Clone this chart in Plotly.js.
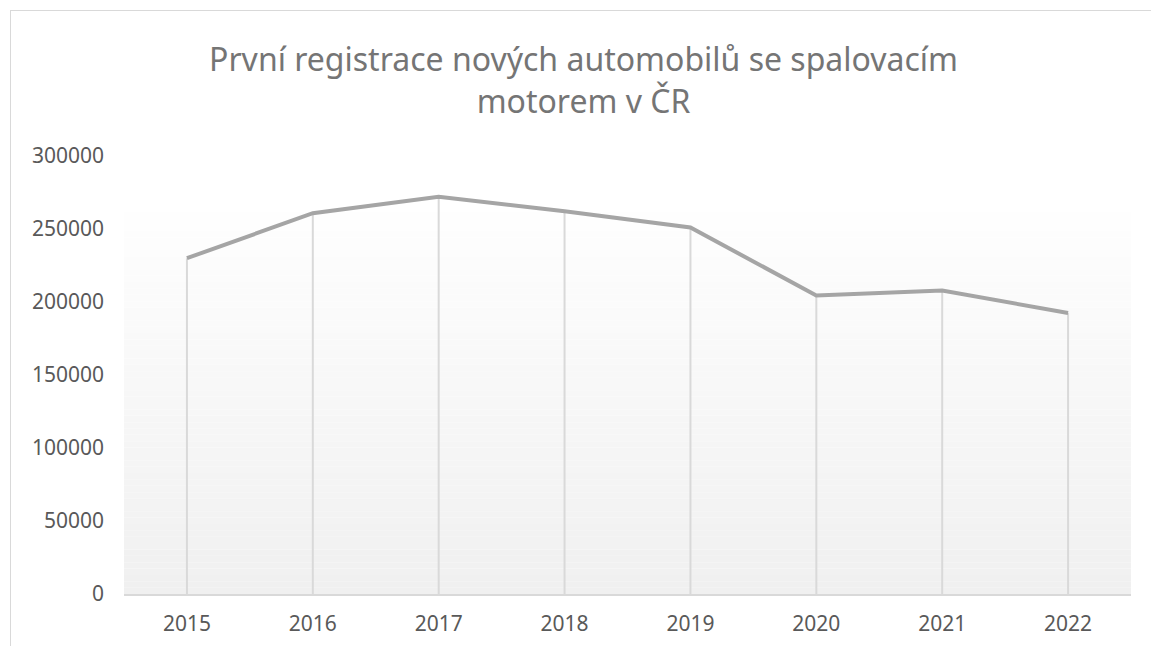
<!DOCTYPE html>
<html>
<head>
<meta charset="utf-8">
<script src="https://cdn.plot.ly/plotly-3.0.1.min.js"></script>
<style>
  html, body { margin: 0; padding: 0; background: #ffffff; overflow: hidden; }
  #frame { position: absolute; left: 10px; top: 10px; width: 1200px; height: 700px; border: 1px solid #d9d9d9; box-sizing: border-box; }
  #chart { position: absolute; left: 0; top: 0; width: 1151px; height: 646px; }
</style>
</head>
<body>
<div id="frame"></div>
<div id="chart"></div>
<script>
const years = ['2015', '2016', '2017', '2018', '2019', '2020', '2021', '2022'];
const registrations = [230000, 260800, 272000, 262200, 251000, 204500, 207800, 192500];
const yTicks = [0, 50000, 100000, 150000, 200000, 250000, 300000];
const chartTitle = 'První registrace nových automobilů se spalovacím<br>motorem v ČR';

// background gradient stripes (decoration)
const shapes = [];
const nStripes = 60;
const gradTop = 0.872;
for (let i = 0; i < nStripes; i++) {
  const t = i / (nStripes - 1);
  const c = Math.round(240 + (254 - 240) * t);
  shapes.push({
    type: 'rect', xref: 'paper', yref: 'paper', layer: 'below',
    x0: 0, x1: 1,
    y0: gradTop * i / nStripes, y1: gradTop * (i + 1) / nStripes,
    fillcolor: `rgb(${c},${c},${c})`, line: { width: 0 }
  });
}

const dropLines = {
  x: years, y: registrations, type: 'scatter', mode: 'markers',
  marker: { size: 1, opacity: 0 },
  error_y: { type: 'data', symmetric: false, array: registrations.map(() => 0), arrayminus: registrations, color: '#d9d9d9', thickness: 2, width: 0 },
  hoverinfo: 'skip', showlegend: false
};

const line = {
  x: years, y: registrations, type: 'scatter', mode: 'lines',
  line: { color: '#a5a5a5', width: 4 },
  showlegend: false
};

const layout = {
  width: 1151, height: 646,
  margin: { l: 124, r: 20, t: 156, b: 52 },
  paper_bgcolor: 'rgba(0,0,0,0)',
  plot_bgcolor: 'rgba(0,0,0,0)',
  font: { family: 'Noto Sans, sans-serif', color: '#595959', size: 21 },
  title: {
    text: chartTitle,
    x: 0.507, xanchor: 'center', y: 0.89, yanchor: 'middle',
    font: { family: 'Noto Sans, sans-serif', size: 32, color: '#757575', lineposition: 'none' }
  },
  xaxis: {
    type: 'category', range: [-0.5, 7.5],
    showgrid: false, zeroline: false,
    showline: true, linecolor: '#d9d9d9', linewidth: 2,
    ticks: '', ticklabelstandoff: 10,
    tickfont: { size: 21, color: '#595959' }
  },
  yaxis: {
    range: [0, 300000],
    tickvals: yTicks, ticktext: yTicks.map(String),
    showgrid: false, zeroline: false, showline: false,
    ticks: '', ticklabelstandoff: 19,
    tickfont: { size: 21, color: '#595959' }
  },
  shapes: shapes,
  hovermode: false
};

Plotly.newPlot('chart', [dropLines, line], layout, { displayModeBar: false, staticPlot: true });
</script>
</body>
</html>
